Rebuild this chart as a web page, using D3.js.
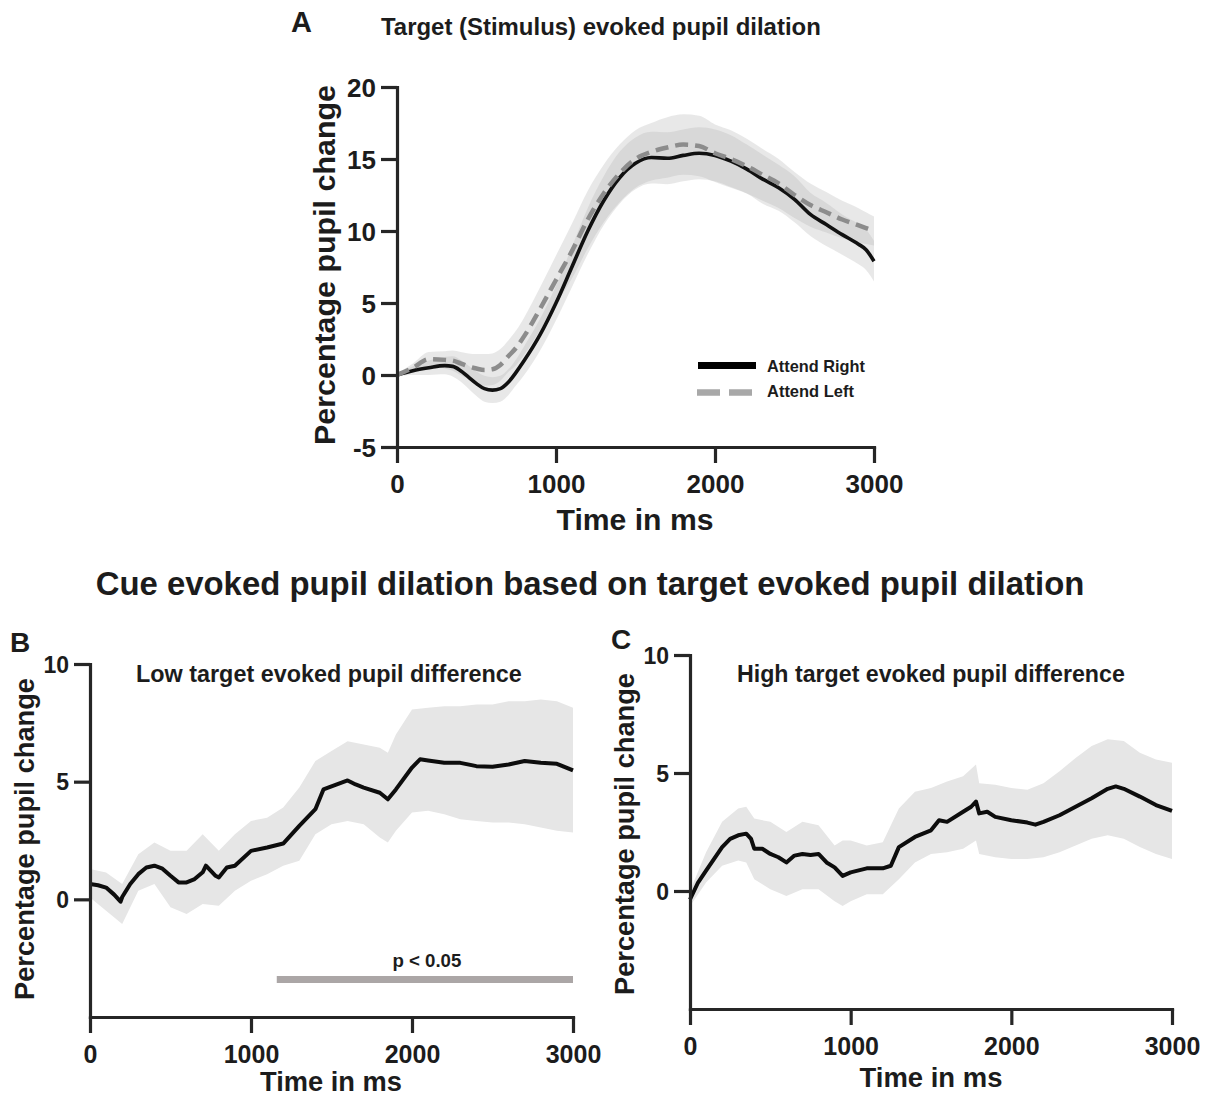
<!DOCTYPE html>
<html><head><meta charset="utf-8">
<script src="https://cdn.jsdelivr.net/npm/d3@7"></script>
<style>body{margin:0;background:#fff}svg{display:block}</style>
</head><body>
<svg id="chart" width="1206" height="1097"></svg>
<script>
// ---------- DATA ----------
const xTicks = [0, 1000, 2000, 3000];
const yTicksA = [-5, 0, 5, 10, 15, 20];
const yTicksBC = [0, 5, 10];

// Panel A
const timeA = [0,100,200,300,350,400,450,500,550,600,650,700,750,800,900,1000,1100,1200,1300,1400,1500,1600,1700,1800,1900,2000,2100,2200,2300,2400,2500,2600,2700,2800,2900,2950,3000];
const attendRight = [0,0.3,0.5,0.65,0.6,0.3,-0.15,-0.6,-0.95,-1.05,-0.95,-0.5,0.2,1.0,2.8,5.0,7.5,10.0,12.1,13.7,14.7,15.1,15.05,15.25,15.4,15.25,14.85,14.3,13.6,13.0,12.2,11.15,10.45,9.75,9.1,8.7,7.9];
const attendRightSem = [0.1,0.3,0.5,0.6,0.7,0.75,0.8,0.85,0.9,0.9,0.9,0.9,0.9,1.0,1.1,1.2,1.4,1.6,1.7,1.8,1.8,1.8,1.8,1.8,1.8,1.8,1.8,1.7,1.7,1.6,1.6,1.5,1.5,1.4,1.4,1.4,1.4];
const attendLeft = [0,0.5,1.1,1.05,1.0,0.8,0.6,0.45,0.35,0.4,0.7,1.3,1.9,2.7,4.6,6.6,8.6,10.8,12.6,14.0,15.0,15.5,15.8,16.0,15.9,15.4,15.0,14.5,13.9,13.3,12.5,11.8,11.3,10.8,10.4,10.2,10.0];
const attendLeftSem = [0.1,0.3,0.5,0.6,0.7,0.8,0.9,1.0,1.1,1.1,1.1,1.1,1.2,1.3,1.5,1.7,1.9,2.0,2.0,2.0,2.0,2.0,2.1,2.1,2.1,2.0,2.0,1.9,1.8,1.7,1.6,1.5,1.4,1.3,1.2,1.1,1.0];

// Panel B
const timeB = [0,50,100,150,190,200,250,300,350,400,450,500,550,600,650,700,720,780,800,850,900,1000,1100,1200,1300,1400,1450,1500,1600,1650,1700,1800,1850,1900,2000,2050,2100,2200,2300,2400,2500,2600,2700,2800,2900,3000];
const meanB = [0.65,0.6,0.5,0.2,-0.1,0.1,0.65,1.07,1.35,1.43,1.3,1.0,0.72,0.72,0.86,1.15,1.43,1.0,0.93,1.35,1.43,2.06,2.2,2.37,3.12,3.83,4.67,4.8,5.05,4.88,4.75,4.53,4.25,4.67,5.6,5.95,5.9,5.8,5.8,5.66,5.63,5.73,5.88,5.8,5.76,5.48];
const bandTimeB = [0,100,200,300,400,500,600,700,800,900,1000,1100,1200,1300,1400,1500,1600,1700,1800,1850,1900,2000,2100,2200,2300,2400,2500,2600,2700,2800,2900,3000];
const upperB = [1.29,1.14,0.65,1.92,2.42,2.06,2.06,2.77,2.06,2.77,3.33,3.47,3.9,4.75,5.88,6.3,6.72,6.58,6.44,6.23,7.0,8.07,8.14,8.2,8.2,8.28,8.28,8.42,8.42,8.49,8.42,8.14];
const lowerB = [0.08,-0.48,-1.05,0.37,0.65,-0.34,-0.62,-0.2,-0.27,0.37,0.79,1.07,1.43,1.64,2.77,3.19,3.33,3.19,2.63,2.42,2.91,3.69,3.76,3.62,3.4,3.33,3.26,3.26,3.19,3.05,2.91,2.84];
const sigStartB = 1160, sigEndB = 3000;

// Panel C
const timeC = [0,50,100,150,200,250,300,350,380,400,450,500,550,600,650,700,750,800,850,900,950,1000,1100,1200,1250,1300,1400,1500,1550,1600,1700,1750,1780,1800,1850,1900,2000,2100,2150,2200,2300,2400,2500,2600,2650,2700,2800,2900,3000];
const meanC = [-0.36,0.36,0.86,1.36,1.86,2.21,2.36,2.43,2.21,1.79,1.79,1.57,1.43,1.21,1.5,1.57,1.53,1.57,1.21,1.0,0.64,0.79,0.96,0.96,1.07,1.86,2.29,2.57,3.0,2.93,3.36,3.57,3.79,3.29,3.36,3.14,3.0,2.9,2.81,2.93,3.21,3.57,3.93,4.33,4.43,4.33,4.0,3.64,3.39];
const bandTimeC = [0,100,200,300,350,400,500,600,700,800,900,950,1000,1100,1200,1300,1400,1500,1600,1700,1780,1800,1900,2000,2100,2200,2300,2400,2500,2600,2700,2800,2900,3000];
const upperC = [0,1.64,2.93,3.5,3.57,3.07,2.93,2.5,2.93,2.79,1.93,2.14,2.14,1.93,2.07,3.5,4.21,4.36,4.64,4.86,5.36,4.57,4.5,4.36,4.29,4.57,5.07,5.64,6.14,6.43,6.36,5.86,5.57,5.43];
const lowerC = [-0.64,0.36,1.07,1.29,1.21,0.5,0.07,-0.21,0.07,0.07,-0.43,-0.64,-0.43,-0.14,-0.14,0.5,1.21,1.57,1.64,1.79,2.14,1.57,1.43,1.36,1.36,1.43,1.64,1.93,2.21,2.36,2.21,1.86,1.57,1.36];

// ---------- DRAW ----------
const svg = d3.select("#chart");
const FONT = "'Liberation Sans', Arial, Helvetica, sans-serif";
const INK = "#1c1c1c";
const AX = "#262626";
const fmt = d => String(d); // plain hyphen minus, as in the reference

function txt(g, s, x, y, fs, anchor, target) {
  const t = g.append("text").attr("x", x).attr("y", y)
    .attr("font-family", FONT).attr("font-weight", "bold")
    .attr("font-size", fs).attr("fill", INK)
    .attr("text-anchor", anchor || "start").text(s);
  if (target) {
    const len = t.node().getComputedTextLength();
    t.attr("font-size", fs * target / len);
  }
  return t;
}
function vtxt(g, s, x, yc, fs, target) {
  const t = g.append("text").attr("transform", `translate(${x},${yc}) rotate(-90)`)
    .attr("font-family", FONT).attr("font-weight", "bold")
    .attr("font-size", fs).attr("fill", INK)
    .attr("text-anchor", "middle").text(s);
  if (target) {
    const len = t.node().getComputedTextLength();
    t.attr("font-size", fs * target / len);
  }
  return t;
}

function axes(g, x, y, yTicks, xPad, yPad, fsX, fsY) {
  const ax = g.append("g").attr("transform", `translate(0,${y.range()[0]})`)
    .call(d3.axisBottom(x).tickValues(xTicks).tickFormat(fmt).tickSize(16).tickSizeOuter(0).tickPadding(xPad));
  const ay = g.append("g").attr("transform", `translate(${x.range()[0]},0)`)
    .call(d3.axisLeft(y).tickValues(yTicks).tickFormat(fmt).tickSize(16).tickSizeOuter(0).tickPadding(yPad));
  [ax, ay].forEach(a => {
    a.select(".domain").attr("stroke", AX).attr("stroke-width", 3.2).attr("stroke-linecap", "square");
    a.selectAll(".tick line").attr("stroke", AX).attr("stroke-width", 3.2);
    a.selectAll(".tick text").attr("font-family", FONT).attr("font-weight", "bold").attr("fill", INK);
  });
  ax.selectAll(".tick text").attr("font-size", fsX);
  ay.selectAll(".tick text").attr("font-size", fsY).attr("dy", "0.36em");
}

// ----- Panel A -----
{
  const g = svg.append("g");
  const x = d3.scaleLinear().domain([0, 3000]).range([397, 874]);
  const y = d3.scaleLinear().domain([-5, 20]).range([447, 87]);
  const idx = d3.range(timeA.length);
  const area = (m, s) => d3.area().x(i => x(timeA[i])).y0(i => y(m[i] - s[i])).y1(i => y(m[i] + s[i])).curve(d3.curveMonotoneX);
  g.append("path").attr("d", area(attendLeft, attendLeftSem)(idx)).attr("fill", "#b4b4b4").attr("fill-opacity", 0.3);
  g.append("path").attr("d", area(attendRight, attendRightSem)(idx)).attr("fill", "#b4b4b4").attr("fill-opacity", 0.3);
  const line = m => d3.line().x(i => x(timeA[i])).y(i => y(m[i])).curve(d3.curveMonotoneX);
  g.append("path").attr("d", line(attendRight)(idx)).attr("fill", "none").attr("stroke", "#111").attr("stroke-width", 3.6);
  g.append("path").attr("d", line(attendLeft)(idx)).attr("fill", "none").attr("stroke", "#8c8c8c").attr("stroke-width", 4.5).attr("stroke-dasharray", "13,7");
  axes(g, x, y, yTicksA, 12, 5, 26, 26);
  // legend
  g.append("line").attr("x1", 698).attr("x2", 756).attr("y1", 365.5).attr("y2", 365.5).attr("stroke", "#000").attr("stroke-width", 7);
  g.append("line").attr("x1", 697).attr("x2", 753).attr("y1", 392.5).attr("y2", 392.5).attr("stroke", "#a8a8a8").attr("stroke-width", 6.5).attr("stroke-dasharray", "23,9");
  txt(g, "Attend Right", 767, 372, 15, "start", 98);
  txt(g, "Attend Left", 767, 397, 15, "start", 87);
  txt(g, "A", 291, 32, 29, "start");
  txt(g, "Target (Stimulus) evoked pupil dilation", 381, 35, 20, "start", 440);
  vtxt(g, "Percentage pupil change", 335, 265, 27, 360);
  txt(g, "Time in ms", 635, 530, 26, "middle", 157);
}

txt(svg, "Cue evoked pupil dilation based on target evoked pupil dilation", 590, 595, 27, "middle", 989);

// ----- Panel B -----
{
  const g = svg.append("g");
  const x = d3.scaleLinear().domain([0, 3000]).range([90, 573]);
  const y = d3.scaleLinear().domain([-5, 10]).range([1017, 664]);
  const bi = d3.range(bandTimeB.length);
  g.append("path").attr("d", d3.area().x(i => x(bandTimeB[i])).y0(i => y(lowerB[i])).y1(i => y(upperB[i]))(bi)).attr("fill", "#e6e6e6");
  const li = d3.range(timeB.length);
  g.append("path").attr("d", d3.line().x(i => x(timeB[i])).y(i => y(meanB[i]))(li)).attr("fill", "none").attr("stroke", "#0d0d0d").attr("stroke-width", 4).attr("stroke-linejoin", "round");
  g.append("rect").attr("x", x(sigStartB)).attr("width", x(sigEndB) - x(sigStartB)).attr("y", 976).attr("height", 7).attr("fill", "#aba6a6");
  txt(g, "p < 0.05", (x(sigStartB) + x(sigEndB)) / 2 + 2, 967, 15, "middle", 69);
  axes(g, x, y, yTicksBC, 12, 5, 25, 23);
  txt(g, "B", 10, 652, 28, "start");
  txt(g, "Low target evoked pupil difference", 136, 682, 19, "start", 386);
  vtxt(g, "Percentage pupil change", 34, 839, 24, 322);
  txt(g, "Time in ms", 331, 1091, 24, "middle", 142);
}

// ----- Panel C -----
{
  const g = svg.append("g");
  const x = d3.scaleLinear().domain([0, 3000]).range([690, 1172]);
  const y = d3.scaleLinear().domain([-5, 10]).range([1009, 655]);
  const bi = d3.range(bandTimeC.length);
  g.append("path").attr("d", d3.area().x(i => x(bandTimeC[i])).y0(i => y(lowerC[i])).y1(i => y(upperC[i]))(bi)).attr("fill", "#e6e6e6");
  const li = d3.range(timeC.length);
  g.append("path").attr("d", d3.line().x(i => x(timeC[i])).y(i => y(meanC[i]))(li)).attr("fill", "none").attr("stroke", "#0d0d0d").attr("stroke-width", 4).attr("stroke-linejoin", "round");
  axes(g, x, y, yTicksBC, 12, 5, 25, 23);
  txt(g, "C", 611, 649, 28, "start");
  txt(g, "High target evoked pupil difference", 737, 682, 19, "start", 388);
  vtxt(g, "Percentage pupil change", 634, 834, 24, 322);
  txt(g, "Time in ms", 931, 1087, 24, "middle", 143);
}
</script>
</body></html>
